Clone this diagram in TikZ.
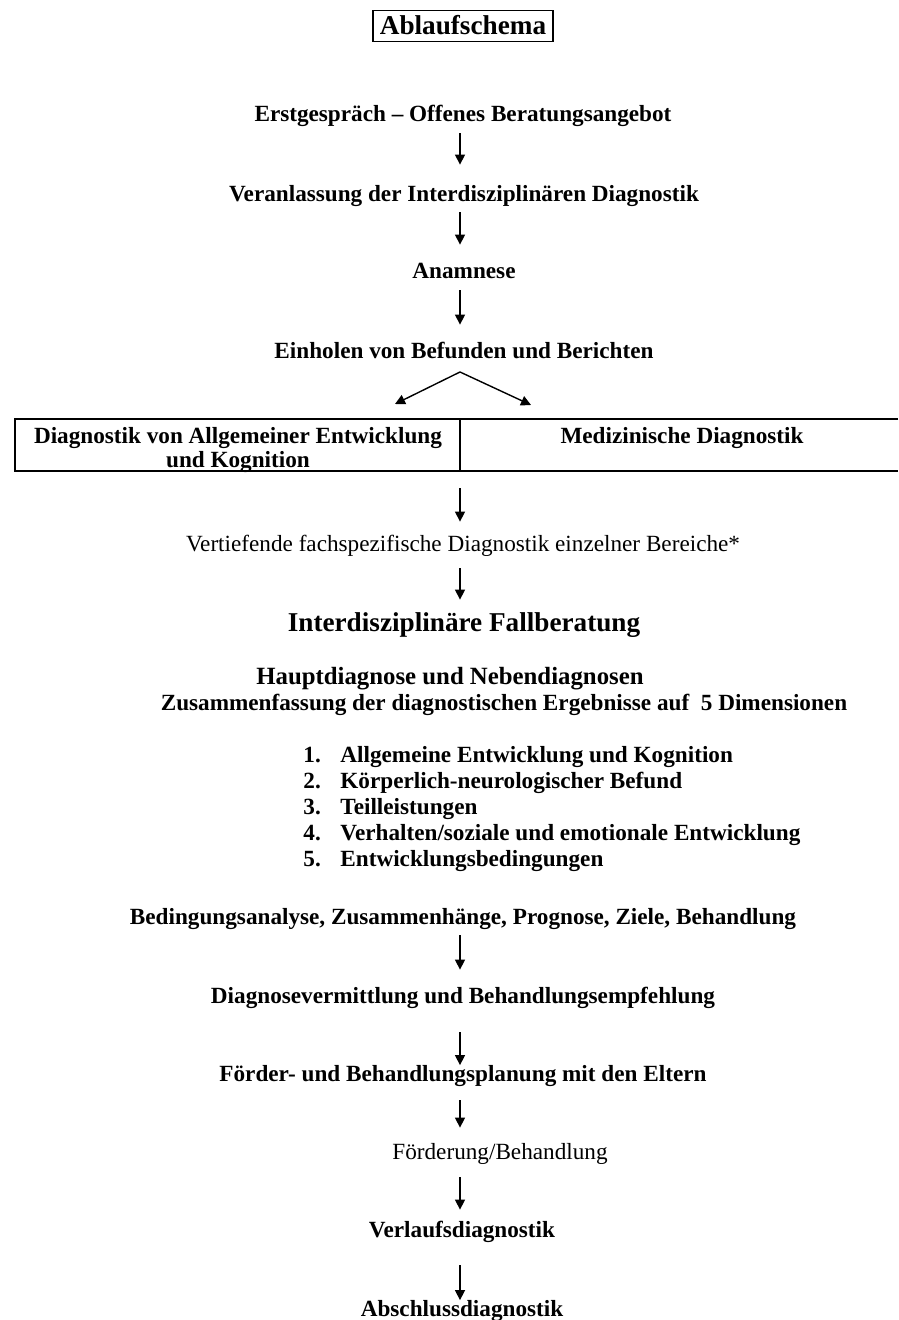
\documentclass[tikz,border=0pt]{standalone}
\usepackage{fontspec}
\setmainfont{Liberation Serif}
\usetikzlibrary{arrows.meta}
\begin{document}
\begin{tikzpicture}[x = .5pt, y = -.5pt,
    txt/.style = {inner sep = 0pt, text height = 8pt, text depth = 2.5pt,
      font = \fontsize{11.6}{14}\selectfont},
    bold/.style = {txt, font = \fontsize{11.6}{14}\selectfont\bfseries},
    flow/.style = {-{Triangle[length = 5pt, width = 5pt]}, line width = .7pt}]
  \useasboundingbox (0,0) rectangle (898,1320);
  \coordinate (axis) at (460,0);
  % title
  \node [draw, line width = .8pt, inner xsep = 3.5pt, inner ysep = 2.5pt,
    text height = 9.5pt, text depth = 1pt,
    font = \fontsize{13.6}{16}\selectfont\bfseries] (title) at (463,26) {Ablaufschema};
  % first steps
  \node [bold] (erst) at (463,116) {Erstgespräch -- Offenes Beratungsangebot};
  \node [bold] (veran) at (464,196) {Veranlassung der Interdisziplinären Diagnostik};
  \node [bold] (anam) at (464,273) {Anamnese};
  \node [bold] (einh) at (464,353) {Einholen von Befunden und Berichten};
  \draw [flow, shorten <= 3.25pt, shorten >= 10.25pt] (erst.south -| axis) -- (veran.north -| axis);
  \draw [flow, shorten <= 2.75pt, shorten >= 8.75pt] (veran.south -| axis) -- (anam.north -| axis);
  \draw [flow, shorten <= 3.25pt, shorten >= 8.75pt] (anam.south -| axis) -- (einh.north -| axis);
  % split into the two diagnostics
  \coordinate (apex) at (460,372);
  \coordinate (tipl) at (395,404);
  \coordinate (tipr) at (531,405);
  \draw [flow] (apex) -- (tipl);
  \draw [flow] (apex) -- (tipr);
  \draw [line width = .8pt] (898,419) -- (15,419) -- (15,471) -- (898,471);
  \draw [line width = .8pt] (460,419) -- (460,471);
  \coordinate (boxs) at (460,471);
  \node [bold, align = center, font = \fontsize{11.6}{12}\selectfont\bfseries] (allg) at (238,462)
    {Diagnostik von Allgemeiner Entwicklung\\und Kognition};
  \node [bold] (med) at (682,438) {Medizinische Diagnostik};
  % consultation
  \node [txt] (vert) at (463,546) {Vertiefende fachspezifische Diagnostik einzelner Bereiche*};
  \node [inner sep = 0pt, text height = 9.5pt, text depth = 3pt,
    font = \fontsize{13.6}{16}\selectfont\bfseries] (fall) at (464,625) {Interdisziplinäre Fallberatung};
  \draw [flow, shorten <= 8.5pt, shorten >= 6.75pt] (boxs) -- (vert.north -| axis);
  \draw [flow, shorten <= 5.75pt, shorten >= 6.25pt] (vert.south -| axis) -- (fall.north -| axis);
  \node [bold, font = \fontsize{12.4}{14}\selectfont\bfseries] (haupt) at (450,679) {Hauptdiagnose und Nebendiagnosen};
  \node [bold] (zus) at (504,705) {Zusammenfassung der diagnostischen Ergebnisse auf\ \ 5 Dimensionen};
  \foreach \dimtext [count = \i] in {Allgemeine Entwicklung und Kognition,
      Körperlich-neurologischer Befund, Teilleistungen,
      Verhalten/soziale und emotionale Entwicklung, Entwicklungsbedingungen} {
    \node [bold, anchor = west] (num\i) at (303,731+26*\i) {\i.};
    \node [bold, anchor = west] (dim\i) at (340,731+26*\i) {\dimtext};
  }
  \node [bold] (bed) at (463,919) {Bedingungsanalyse, Zusammenhänge, Prognose, Ziele, Behandlung};
  % treatment
  \node [bold] (verm) at (463,998) {Diagnosevermittlung und Behandlungsempfehlung};
  \node [bold] (plan) at (463,1076) {Förder- und Behandlungsplanung mit den Eltern};
  \node [txt] (foerd) at (500,1154) {Förderung/Behandlung};
  \node [bold] (verl) at (462,1232) {Verlaufsdiagnostik};
  \node [bold] (absch) at (462,1311) {Abschlussdiagnostik};
  \draw [flow, shorten <= 2.75pt, shorten >= 8.75pt] (bed.south -| axis) -- (verm.north -| axis);
  \draw [flow, shorten <= 11.75pt] (verm.south -| axis) -- (plan.north -| axis);
  \draw [flow, shorten <= 6.75pt, shorten >= 7.75pt] (plan.south -| axis) -- (foerd.north -| axis);
  \draw [flow, shorten <= 6.25pt, shorten >= 5.75pt] (foerd.south -| axis) -- (verl.north -| axis);
  \draw [flow, shorten <= 11.25pt] (verl.south -| axis) -- (absch.north -| axis);
\end{tikzpicture}
\end{document}
